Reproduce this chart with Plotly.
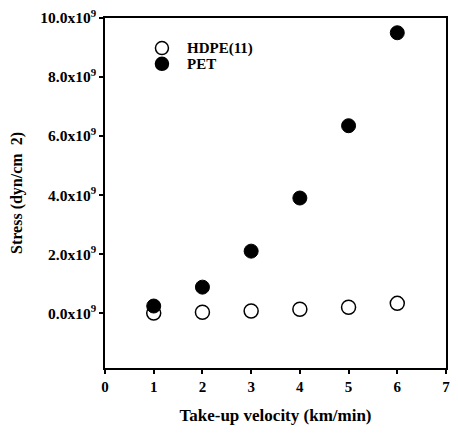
import plotly.graph_objects as go

velocity = [1, 2, 3, 4, 5, 6]
hdpe_stress = [0.0e9, 0.03e9, 0.07e9, 0.13e9, 0.2e9, 0.33e9]
pet_stress = [0.24e9, 0.88e9, 2.1e9, 3.9e9, 6.35e9, 9.5e9]
series_names = ["HDPE(11)", "PET"]
y_tickvals = [0, 2e9, 4e9, 6e9, 8e9, 10e9]
y_ticktext = ["0.0x10<sup>9</sup>", "2.0x10<sup>9</sup>", "4.0x10<sup>9</sup>",
              "6.0x10<sup>9</sup>", "8.0x10<sup>9</sup>", "10.0x10<sup>9</sup>"]
x_tickvals = [0, 1, 2, 3, 4, 5, 6, 7]
x_ticktext = ["0", "1", "2", "3", "4", "5", "6", "7"]

FONT = "Liberation Serif"

fig = go.Figure()
fig.add_trace(go.Scatter(
    x=velocity, y=hdpe_stress, mode="markers", name=series_names[0],
    marker=dict(symbol="circle", size=14, color="white",
                line=dict(color="black", width=1.5)),
))
fig.add_trace(go.Scatter(
    x=velocity, y=pet_stress, mode="markers", name=series_names[1],
    marker=dict(symbol="circle", size=14, color="black",
                line=dict(color="black", width=1)),
))

# Manual legend (tight rows like the original)
legend_rows = [(0.914, "white"), (0.869, "black")]
for (py, fill), name in zip(legend_rows, series_names):
    fig.add_shape(type="circle", xref="paper", yref="paper",
                  xsizemode="pixel", ysizemode="pixel",
                  xanchor=0.167, yanchor=py, x0=-6.5, x1=6.5, y0=-6.5, y1=6.5,
                  fillcolor=fill, line=dict(color="black", width=1.5))
    fig.add_annotation(xref="paper", yref="paper", x=0.235, y=py,
                       xanchor="left", yanchor="middle", showarrow=False,
                       text="<b>%s</b>" % name,
                       font=dict(family=FONT, size=15, color="black"))

fig.update_layout(
    width=442, height=417,
    margin=dict(l=97, r=4, t=10, b=57),
    paper_bgcolor="white", plot_bgcolor="white",
    font=dict(family=FONT, color="black", size=12),
    showlegend=False,
    xaxis=dict(range=[-0.0001, 7.0001], tickmode="array", tickvals=x_tickvals,
               ticktext=["<b>%s</b>" % t for t in x_ticktext], ticks="outside",
               ticklen=4, tickwidth=1.5, tickcolor="black", showline=True,
               linecolor="black", linewidth=1.5, automargin=False,
               ticklabeloverflow="allow",
               mirror=True, showgrid=False, zeroline=False,
               tickfont=dict(family=FONT, size=15, color="black"),
               title=dict(text="<b>Take-up velocity (km/min)</b>",
                          font=dict(family=FONT, size=17, color="black"), standoff=15)),
    yaxis=dict(range=[-1.86e9, 10e9], tickmode="array", tickvals=y_tickvals,
               ticktext=["<b>%s</b>" % t for t in y_ticktext],
               ticks="outside", ticklen=4, tickwidth=1.5, tickcolor="black",
               showline=True, automargin=False, ticklabeloverflow="allow",
               linecolor="black", linewidth=1.5, mirror=True, showgrid=False,
               zeroline=False,
               tickfont=dict(family=FONT, size=15.5, color="black"),
               title=dict(text="<b>Stress (dyn/cm  2)</b>",
                          font=dict(family=FONT, size=16, color="black"), standoff=15)),
)

fig.write_html("out.html")
